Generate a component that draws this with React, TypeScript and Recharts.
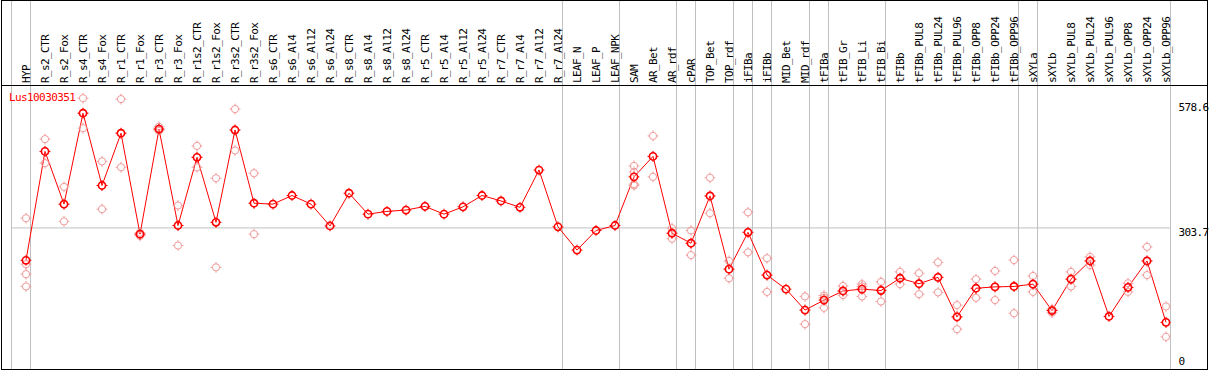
import { ComposedChart, Line, Scatter, XAxis, YAxis, ReferenceLine } from "recharts"

const CATEGORIES = [
  "HYP", "R_s2_CTR", "R_s2_Fox", "R_s4_CTR", "R_s4_Fox", "R_r1_CTR", "R_r1_Fox", "R_r3_CTR", "R_r3_Fox",
  "R_r1s2_CTR", "R_r1s2_Fox", "R_r3s2_CTR", "R_r3s2_Fox", "R_s6_CTR", "R_s6_Al4", "R_s6_Al12", "R_s6_Al24",
  "R_s8_CTR", "R_s8_Al4", "R_s8_Al12", "R_s8_Al24", "R_r5_CTR", "R_r5_Al4", "R_r5_Al12", "R_r5_Al24",
  "R_r7_CTR", "R_r7_Al4", "R_r7_Al12", "R_r7_Al24", "LEAF_N", "LEAF_P", "LEAF_NPK", "SAM", "AR_Bet", "AR_rdf",
  "cPAR", "TOP_Bet", "TOP_rdf", "iFIBa", "iFIBb", "MID_Bet", "MID_rdf", "tFIBa", "tFIB_Gr", "tFIB_Li", "tFIB_Bi",
  "tFIBb", "tFIBb_PUL8", "tFIBb_PUL24", "tFIBb_PUL96", "tFIBb_OPP8", "tFIBb_OPP24", "tFIBb_OPP96", "sXYLa",
  "sXYLb", "sXYLb_PUL8", "sXYLb_PUL24", "sXYLb_PUL96", "sXYLb_OPP8", "sXYLb_OPP24", "sXYLb_OPP96",
]

// mean expression per sample (dark markers + line)
const MEANS = [
  232.5, 472, 356, 556, 397, 512, 290, 521, 309, 459, 316, 519, 358, 356, 375, 356, 308, 380, 334, 340,
  343, 351, 334, 350, 375, 363, 349, 431, 306, 255, 298, 309, 416, 461, 292, 270, 374, 213, 294, 200,
  169, 123, 145, 165, 169, 166, 193, 181, 195, 108, 171, 174, 175, 180, 122, 191, 231, 109, 173, 231, 96,
]

// replicate values (light markers)
const REPLICATES: number[][] = [
  [325, 224, 202, 175], [499, 472, 446], [394, 356, 318], [589, 556, 523], [450, 397, 345],
  [587, 512, 437], [293, 289, 286], [526, 521, 517], [353, 309, 265], [484, 459, 437],
  [413, 316, 217], [565, 519, 474], [424, 358, 290], [], [], [], [], [], [], [], [], [], [], [], [],
  [], [], [], [], [], [], [], [440, 427, 400, 397], [506, 461, 416], [303, 292, 280],
  [298, 270, 244], [414, 374, 336], [231, 213, 193], [338, 294, 250], [237, 200, 163],
  [], [153, 123, 92], [155, 150, 128], [176, 165, 156], [180, 175, 153], [185, 168, 142],
  [207, 193, 180], [204, 181, 158], [228, 195, 162], [134, 108, 81], [191, 171, 150],
  [209, 174, 145], [233, 175, 116], [198, 180, 163], [125, 122, 117], [207, 191, 175],
  [240, 231, 222], [], [182, 173, 163], [262, 231, 200], [131, 96, 64],
]

// index of the last sample in each group (separators)
const GROUP_ENDS = [-1, 0, 28, 31, 34, 35, 37, 38, 39, 41, 42, 45, 52, 53, 60]

const Y_TICKS = [0, 303.7, 578.6]
const GENE = "Lus10030351"

const FONT = "'DejaVu Sans Mono', monospace"
const RED = "#ff0000"
const LIGHT = "#f09a9a"
const GRID = "#c0c0c0"

const lineData = MEANS.map((m, i) => ({ i, mean: m }))
const repData = REPLICATES.flatMap((r, i) => r.map((v) => ({ i, v })))

function Ring({ cx, cy, light }: { cx?: number; cy?: number; light?: boolean }) {
  if (cx == null || cy == null) return null
  const c = light ? LIGHT : RED
  const w = light ? 1 : 1.6
  return (
    <g>
      <circle cx={cx} cy={cy} r={3.6} fill="none" stroke={c} strokeWidth={w} />
      <line x1={cx} y1={cy - 3.6} x2={cx} y2={cy - 5.4} stroke={c} strokeWidth={1} />
      <line x1={cx} y1={cy + 3.6} x2={cx} y2={cy + 5.4} stroke={c} strokeWidth={1} />
      <line x1={cx - 3.6} y1={cy} x2={cx - 5.4} y2={cy} stroke={c} strokeWidth={1} />
      <line x1={cx + 3.6} y1={cy} x2={cx + 5.4} y2={cy} stroke={c} strokeWidth={1} />
    </g>
  )
}

function TopTick({ x, y, payload }: any) {
  const tx = x + 4
  return (
    <text
      x={tx}
      y={y}
      transform={`rotate(-90, ${tx}, ${y})`}
      textAnchor="start"
      fontFamily={FONT}
      fontSize={11}
      letterSpacing={-0.6}
      fill="#000"
    >
      {CATEGORIES[payload.value]}
    </text>
  )
}

function RightTick({ x, y, payload }: any) {
  const ty = Math.min(y + 8, 365)
  return (
    <text x={x} y={ty} textAnchor="start" fontFamily={FONT} fontSize={11} letterSpacing={-0.6} fill="#000">
      {payload.value}
    </text>
  )
}

export default function App() {
  const W = 1209
  const H = 370
  return (
    <div style={{ position: "absolute", left: 0, top: 0, width: W, height: H, background: "#fff" }}>
      <ComposedChart width={W} height={H} margin={{ top: 1, right: 0, bottom: 1, left: 11 }}>
        <XAxis
          xAxisId={0}
          type="number"
          dataKey="i"
          orientation="top"
          height={84}
          domain={[-0.7895, 60.2368]}
          allowDataOverflow
          ticks={CATEGORIES.map((_, i) => i)}
          interval={0}
          axisLine={false}
          tickLine={false}
          tickSize={0}
          tickMargin={2}
          tick={<TopTick />}
        />
        <YAxis
          yAxisId={0}
          type="number"
          orientation="right"
          width={38.5}
          domain={[-6.6, 618]}
          allowDataOverflow
          ticks={Y_TICKS}
          interval={0}
          axisLine={false}
          tickLine={false}
          tickSize={0}
          tickMargin={8}
          tick={<RightTick />}
        />
        <ReferenceLine y={303.7} stroke={GRID} strokeWidth={1} ifOverflow="visible" />
        {GROUP_ENDS.map((g) => (
          <ReferenceLine
            key={g}
            segment={[{ x: g + 0.237, y: -6.6 }, { x: g + 0.237, y: 805 }]}
            stroke={GRID}
            strokeWidth={1}
            ifOverflow="visible"
          />
        ))}
        <Scatter
          data={repData}
          dataKey="v"
          isAnimationActive={false}
          shape={(p: any) => <Ring cx={p.cx} cy={p.cy} light />}
        />
        <Line
          data={lineData}
          dataKey="mean"
          type="linear"
          stroke={RED}
          strokeWidth={1}
          isAnimationActive={false}
          dot={(p: any) => <Ring key={p.index} cx={p.cx} cy={p.cy} />}
          activeDot={false}
        />
      </ComposedChart>
      <svg width={W} height={H} style={{ position: "absolute", left: 0, top: 0, pointerEvents: "none" }}>
        <rect x={1.5} y={0.5} width={1206} height={369} fill="none" stroke="#000" strokeWidth={1} />
        <line x1={1} y1={85.5} x2={1208} y2={85.5} stroke="#000" strokeWidth={1} />
        <text x={9} y={101} fontFamily={FONT} fontSize={11} letterSpacing={-0.6} fill={RED}>
          {GENE}
        </text>
      </svg>
    </div>
  )
}
